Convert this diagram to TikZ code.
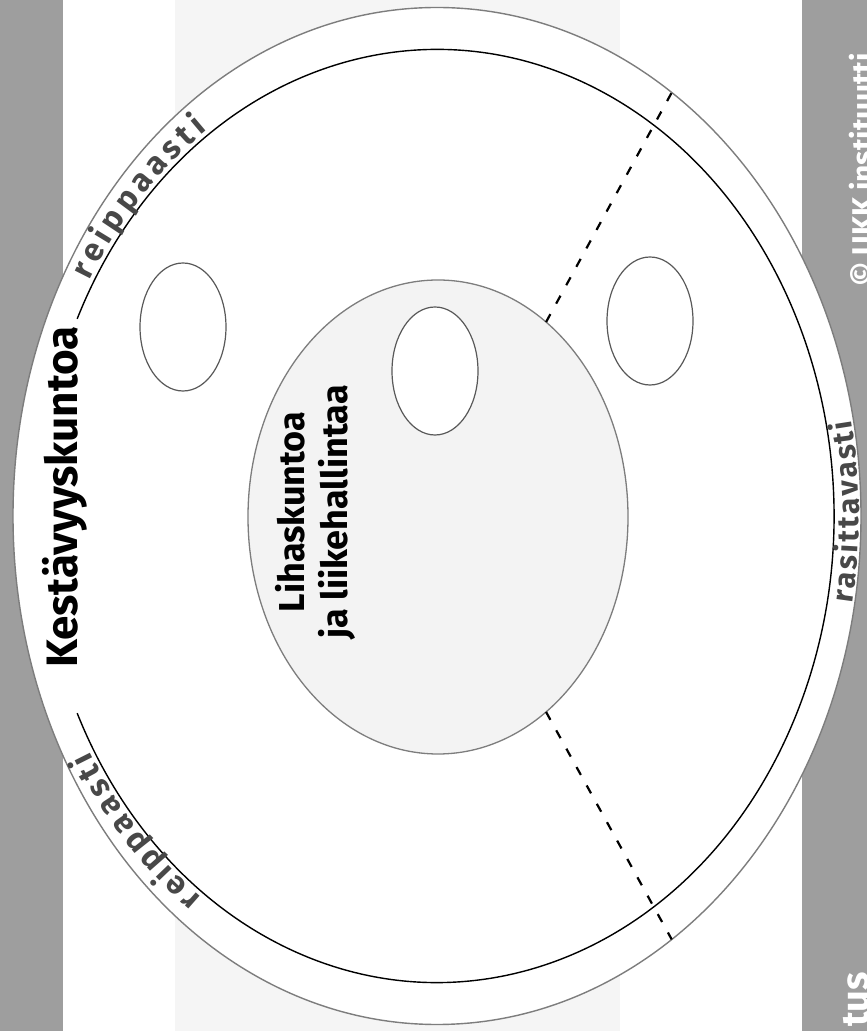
\documentclass[tikz,border=0pt]{standalone}
\usepackage{fontspec}
\setmainfont{Fira Sans}
\usetikzlibrary{shapes.geometric,decorations.text}
\definecolor{stripegray}{RGB}{158,158,158}
\definecolor{bandgray}{RGB}{245,245,245}
\definecolor{rimgray}{RGB}{125,125,125}
\definecolor{coregray}{RGB}{243,243,243}
\definecolor{labelgray}{RGB}{72,72,72}
\newcommand\ringfont{\bfseries\fontsize{32}{38}\selectfont}
\newcommand\sidefont{\bfseries\fontsize{30}{36}\selectfont}
\begin{document}
\begin{tikzpicture}[x=1pt, y=1pt,
  rim/.style={ellipse,draw=rimgray,line width=1.4pt,fill=white,inner sep=0pt,outer sep=0pt},
  core/.style={ellipse,draw=rimgray,line width=1.3pt,fill=coregray,inner sep=0pt,outer sep=0pt,minimum width=380,minimum height=474},
  oval/.style={ellipse,draw=black!65,line width=1.2pt,fill=white,inner sep=0pt,outer sep=0pt,minimum width=86,minimum height=128},
  ringline/.style={line width=1.4pt},
  divider/.style={dashed,dash pattern=on 9pt off 12pt,line width=2.2pt},
  title/.style={font=\bfseries\fontsize{44}{52}\selectfont,inner sep=0pt},
  coretext/.style={font=\bfseries\fontsize{36}{43}\selectfont,inner sep=0pt,align=center},
  stamp/.style={text=white,inner sep=0pt},
  ringtext/.style={decorate,decoration={text along path,text align=fit to path,text color=labelgray,text={#1}}}]
\useasboundingbox (0,0) rectangle (867,1031);
\clip (0,0) rectangle (867,1031);
% background stripes
\fill[stripegray] (0,0) rectangle (63,1031);
\fill[stripegray] (802,0) rectangle (867,1031);
\fill[bandgray] (175,0) rectangle (620,1031);
\node[stamp,font=\bfseries\fontsize{30}{36}\selectfont,rotate=90,anchor=base] (ukk) at (873,861) {© UKK instituutti};
\node[stamp,font=\bfseries\fontsize{38}{44}\selectfont,rotate=90,anchor=base east] (tus) at (868,59) {tus};
% ellipses
\node[rim,minimum width=848,minimum height=1017] (outer) at (437,515) {};
\draw[ringline] (outer.center) ++(155:397 and 466.5) arc[start angle=155,end angle=-155,x radius=397,y radius=466.5];
\node[core] (core) at (438,514) {};
\node[oval] (ovalL) at (183,704) {};
\node[oval] (ovalM) at (435,660) {};
\node[oval] (ovalR) at (650,710) {};
\draw[divider] (core.61) -- (outer.61);
\draw[divider] (core.-61) -- (outer.-61);
% labels
\path[ringtext={|\ringfont|reippaasti}] (outer.center) ++(150:401 and 471) arc[start angle=150,end angle=125,x radius=401,y radius=471];
\path[ringtext={|\ringfont|reippaasti}] (outer.center) ++(234:401 and 471) arc[start angle=234,end angle=210,x radius=401,y radius=471];
\path[ringtext={|\sidefont|rasittavasti}] (outer.center) ++(-10:422 and 504) arc[start angle=-10,end angle=11,x radius=422,y radius=504];
\node[title,rotate=90,anchor=base] (endurance) at (77,534) {Kestävyyskuntoa};
\node[coretext,rotate=90] (muscle) at (315,519) {Lihaskuntoa\\ja liikehallintaa};
\end{tikzpicture}
\end{document}
